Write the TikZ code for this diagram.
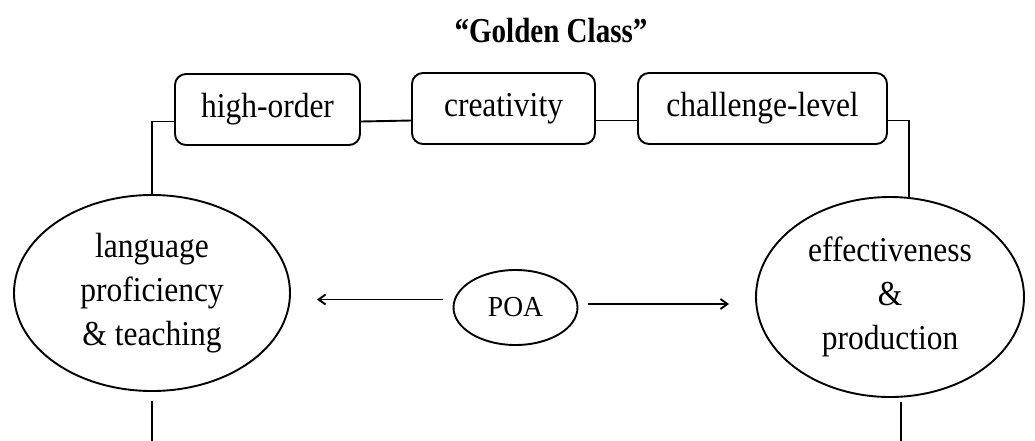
\documentclass[tikz,border=0pt]{standalone}
\usepackage{fontspec}
\setmainfont{Liberation Serif}
\newfontfamily\bodyfont{Liberation Serif}[FakeStretch=0.9]
\newfontfamily\titlefont{Liberation Serif}[FakeStretch=0.83]
\newfontfamily\poafont{Liberation Serif}[FakeStretch=0.95]
\usetikzlibrary{shapes.geometric,arrows.meta,calc}
\begin{document}
\begin{tikzpicture}[x=1pt,y=-1pt,
  line width=1.9pt,
  lbl/.style={font=\bodyfont\fontsize{35}{44}\selectfont},
  rbox/.style={draw,rounded corners=11pt,minimum height=71pt,inner sep=0pt,lbl},
  oval/.style={draw,ellipse,inner sep=0pt,align=center,lbl},
  arr/.style={-{Straight Barb[length=7pt,width=10pt]}}]
\useasboundingbox (0,0) rectangle (1035,440);
\node[font=\titlefont\bfseries\fontsize{35}{40}\selectfont] (title) at (551,31) {“Golden Class”};
\node[rbox,minimum width=185pt] (b1) at (267.5,109.5) {high-order};
\node[rbox,minimum width=183pt] (b2) at (503.5,108.5) {creativity};
\node[rbox,minimum width=249pt] (b3) at (762.5,108.5) {challenge-level};
\node[oval,minimum width=276pt,minimum height=196pt] (L) at (152,293) {language\\proficiency\\\& teaching};
\node[oval,minimum width=268pt,minimum height=200pt] (R) at (890,297) {effectiveness\\\&\\production};
\node[draw,ellipse,inner sep=0pt,minimum width=124pt,minimum height=75pt,font=\poafont\fontsize{29}{30}\selectfont] (P) at (515.5,307.5) {POA};
% top connectors
\draw ([yshift=-12pt]b1.east) -- ([yshift=-12pt]b2.west);
\draw ([yshift=-12pt]b2.east) -- ([yshift=-12pt]b3.west);
\draw ([yshift=-12pt]b1.west) -| (L.north);
\draw ([yshift=-12pt]b3.east) -| (R.79);
% bottom connectors
\coordinate (lbot) at (0,442);
\draw ([yshift=-9pt]L.south) -- (L.south |- lbot);
\draw ([yshift=-4pt]R.276) -- (R.276 |- lbot);
% arrows
\coordinate (la) at ($(L.east)+(26,0)$);
\coordinate (ra) at ($(R.west)+(-26,0)$);
\draw[arr] ([xshift=-10pt,yshift=8pt]P.west) coordinate (a1) -- (a1 -| la);
\draw[arr] ([xshift=10pt,yshift=3.5pt]P.east) coordinate (a2) -- (a2 -| ra);
\end{tikzpicture}
\end{document}
